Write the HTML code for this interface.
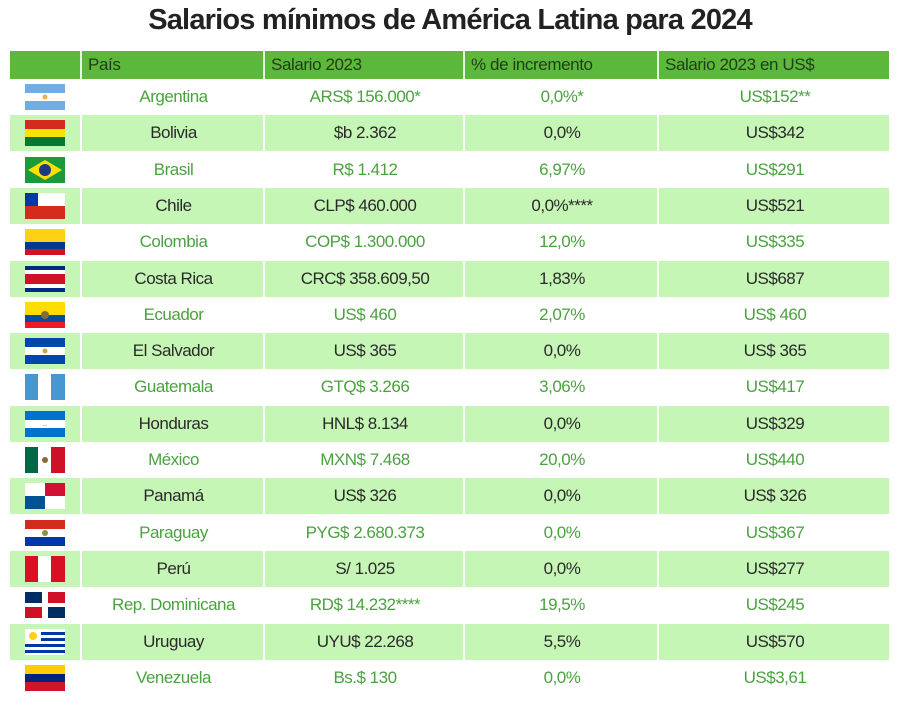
<!DOCTYPE html>
<html><head><meta charset="utf-8"><style>
body{margin:0;width:900px;height:717px;background:#fff;font-family:"Liberation Sans",sans-serif;position:relative;overflow:hidden}
h1{position:absolute;top:4px;left:0;width:900px;text-align:center;margin:0;font-size:29px;font-weight:bold;color:#222;letter-spacing:-0.8px}
.hdr{position:absolute;top:51px;left:10px;width:879px;height:28px;background:#5cb83a}
.hdr div{position:absolute;top:0;height:28px;line-height:28px;font-size:17px;color:#1f3d16;padding-left:6px;box-sizing:border-box;border-left:2px solid #e8f7e0;letter-spacing:-0.4px}
.row{position:absolute;left:10px;width:879px;height:36px}
.row.l{background:#c6f6b6}
.row div.c{position:absolute;top:0;height:36px;line-height:36px;text-align:center;font-size:17px;border-left:2px solid #fff;letter-spacing:-0.5px}
.row.w div.c{color:#4aa23f}
.row.l div.c{color:#2a2a2a}
.flag{position:absolute;left:15px;top:5px;width:40px;height:26px}
</style></head><body>
<h1>Salarios mínimos de América Latina para 2024</h1>
<div class="hdr">
<div style="left:0;width:70px;border-left:none"></div>
<div style="left:70px;width:183px">País</div>
<div style="left:253px;width:200px">Salario 2023</div>
<div style="left:453px;width:194px">% de incremento</div>
<div style="left:647px;width:232px">Salario 2023 en US$</div>
</div>
<div id="rows"></div>
<script>
const d=[
["Argentina","ARS$ 156.000*","0,0%*","US$152**"],
["Bolivia","$b 2.362","0,0%","US$342"],
["Brasil","R$ 1.412","6,97%","US$291"],
["Chile","CLP$ 460.000","0,0%****","US$521"],
["Colombia","COP$ 1.300.000","12,0%","US$335"],
["Costa Rica","CRC$ 358.609,50","1,83%","US$687"],
["Ecuador","US$ 460","2,07%","US$ 460"],
["El Salvador","US$ 365","0,0%","US$ 365"],
["Guatemala","GTQ$ 3.266","3,06%","US$417"],
["Honduras","HNL$ 8.134","0,0%","US$329"],
["México","MXN$ 7.468","20,0%","US$440"],
["Panamá","US$ 326","0,0%","US$ 326"],
["Paraguay","PYG$ 2.680.373","0,0%","US$367"],
["Perú","S/ 1.025","0,0%","US$277"],
["Rep. Dominicana","RD$ 14.232****","19,5%","US$245"],
["Uruguay","UYU$ 22.268","5,5%","US$570"],
["Venezuela","Bs.$ 130","0,0%","US$3,61"]];
const H=(a)=>`<svg class="flag" viewBox="0 0 40 26">${a}</svg>`;
const s3=(a,b,c)=>H(`<rect width="40" height="9" fill="${a}"/><rect y="9" width="40" height="8" fill="${b}"/><rect y="17" width="40" height="9" fill="${c}"/>`);
const v3=(a,b,c)=>H(`<rect width="14" height="26" fill="${a}"/><rect x="13" width="14" height="26" fill="${b}"/><rect x="26" width="14" height="26" fill="${c}"/>`);
const f=[
s3("#74acdf","#fff","#74acdf").replace("</svg>",'<circle cx="20" cy="13" r="2.5" fill="#e8b050"/></svg>'),
s3("#d52b1e","#f9e300","#007934"),
H('<rect width="40" height="26" fill="#1a9a3a"/><polygon points="20,3 37,13 20,23 3,13" fill="#fedf00"/><circle cx="20" cy="13" r="6" fill="#1c3a80"/>'),
H('<rect width="40" height="13" fill="#fff"/><rect y="13" width="40" height="13" fill="#d52b1e"/><rect width="13" height="13" fill="#0039a6"/>'),
H('<rect width="40" height="13" fill="#fcd116"/><rect y="13" width="40" height="7" fill="#003893"/><rect y="20" width="40" height="6" fill="#ce1126"/>'),
H('<rect width="40" height="26" fill="#002b7f"/><rect y="4" width="40" height="18" fill="#fff"/><rect y="8" width="40" height="10" fill="#ce1126"/>'),
H('<rect width="40" height="13" fill="#ffdd00"/><rect y="13" width="40" height="7" fill="#034ea2"/><rect y="20" width="40" height="6" fill="#ed1c24"/><circle cx="20" cy="13" r="4" fill="#8a6a30"/>'),
s3("#0047ab","#fff","#0047ab").replace("</svg>",'<circle cx="20" cy="13" r="2.5" fill="#c9a640"/></svg>'),
v3("#4997d0","#fff","#4997d0"),
s3("#0073cf","#fff","#0073cf").replace("</svg>",'<text x="20" y="16" font-size="6" text-anchor="middle" fill="#0073cf">∙∙∙</text></svg>'),
v3("#006847","#fff","#ce1126").replace("</svg>",'<circle cx="20" cy="13" r="3" fill="#8a6a30"/></svg>'),
H('<rect width="40" height="26" fill="#fff"/><rect x="20" width="20" height="13" fill="#d21034"/><rect y="13" width="20" height="13" fill="#005293"/>'),
s3("#d52b1e","#fff","#0038a8").replace("</svg>",'<circle cx="20" cy="13" r="3" fill="#7a9a40"/></svg>'),
v3("#d91023","#fff","#d91023"),
H('<rect width="40" height="26" fill="#fff"/><rect width="17" height="11" fill="#002d62"/><rect x="23" width="17" height="11" fill="#ce1126"/><rect y="15" width="17" height="11" fill="#ce1126"/><rect x="23" y="15" width="17" height="11" fill="#002d62"/>'),
H('<rect width="40" height="26" fill="#fff"/><rect y="3" width="40" height="3" fill="#0038a8"/><rect y="9" width="40" height="3" fill="#0038a8"/><rect y="15" width="40" height="3" fill="#0038a8"/><rect y="21" width="40" height="3" fill="#0038a8"/><rect width="16" height="14" fill="#fff"/><circle cx="8" cy="7" r="4" fill="#fcd116"/>'),
s3("#ffcc00","#00247d","#cf142b")];
let h="";
d.forEach((r,i)=>{const y=79+i*36.3;
h+=`<div class="row ${i%2?'l':'w'}" style="top:${y}px">${f[i]}
<div class="c" style="left:70px;width:183px">${r[0]}</div>
<div class="c" style="left:253px;width:200px">${r[1]}</div>
<div class="c" style="left:453px;width:194px">${r[2]}</div>
<div class="c" style="left:647px;width:232px">${r[3]}</div></div>`;});
document.getElementById("rows").innerHTML=h;
</script>
</body></html>
